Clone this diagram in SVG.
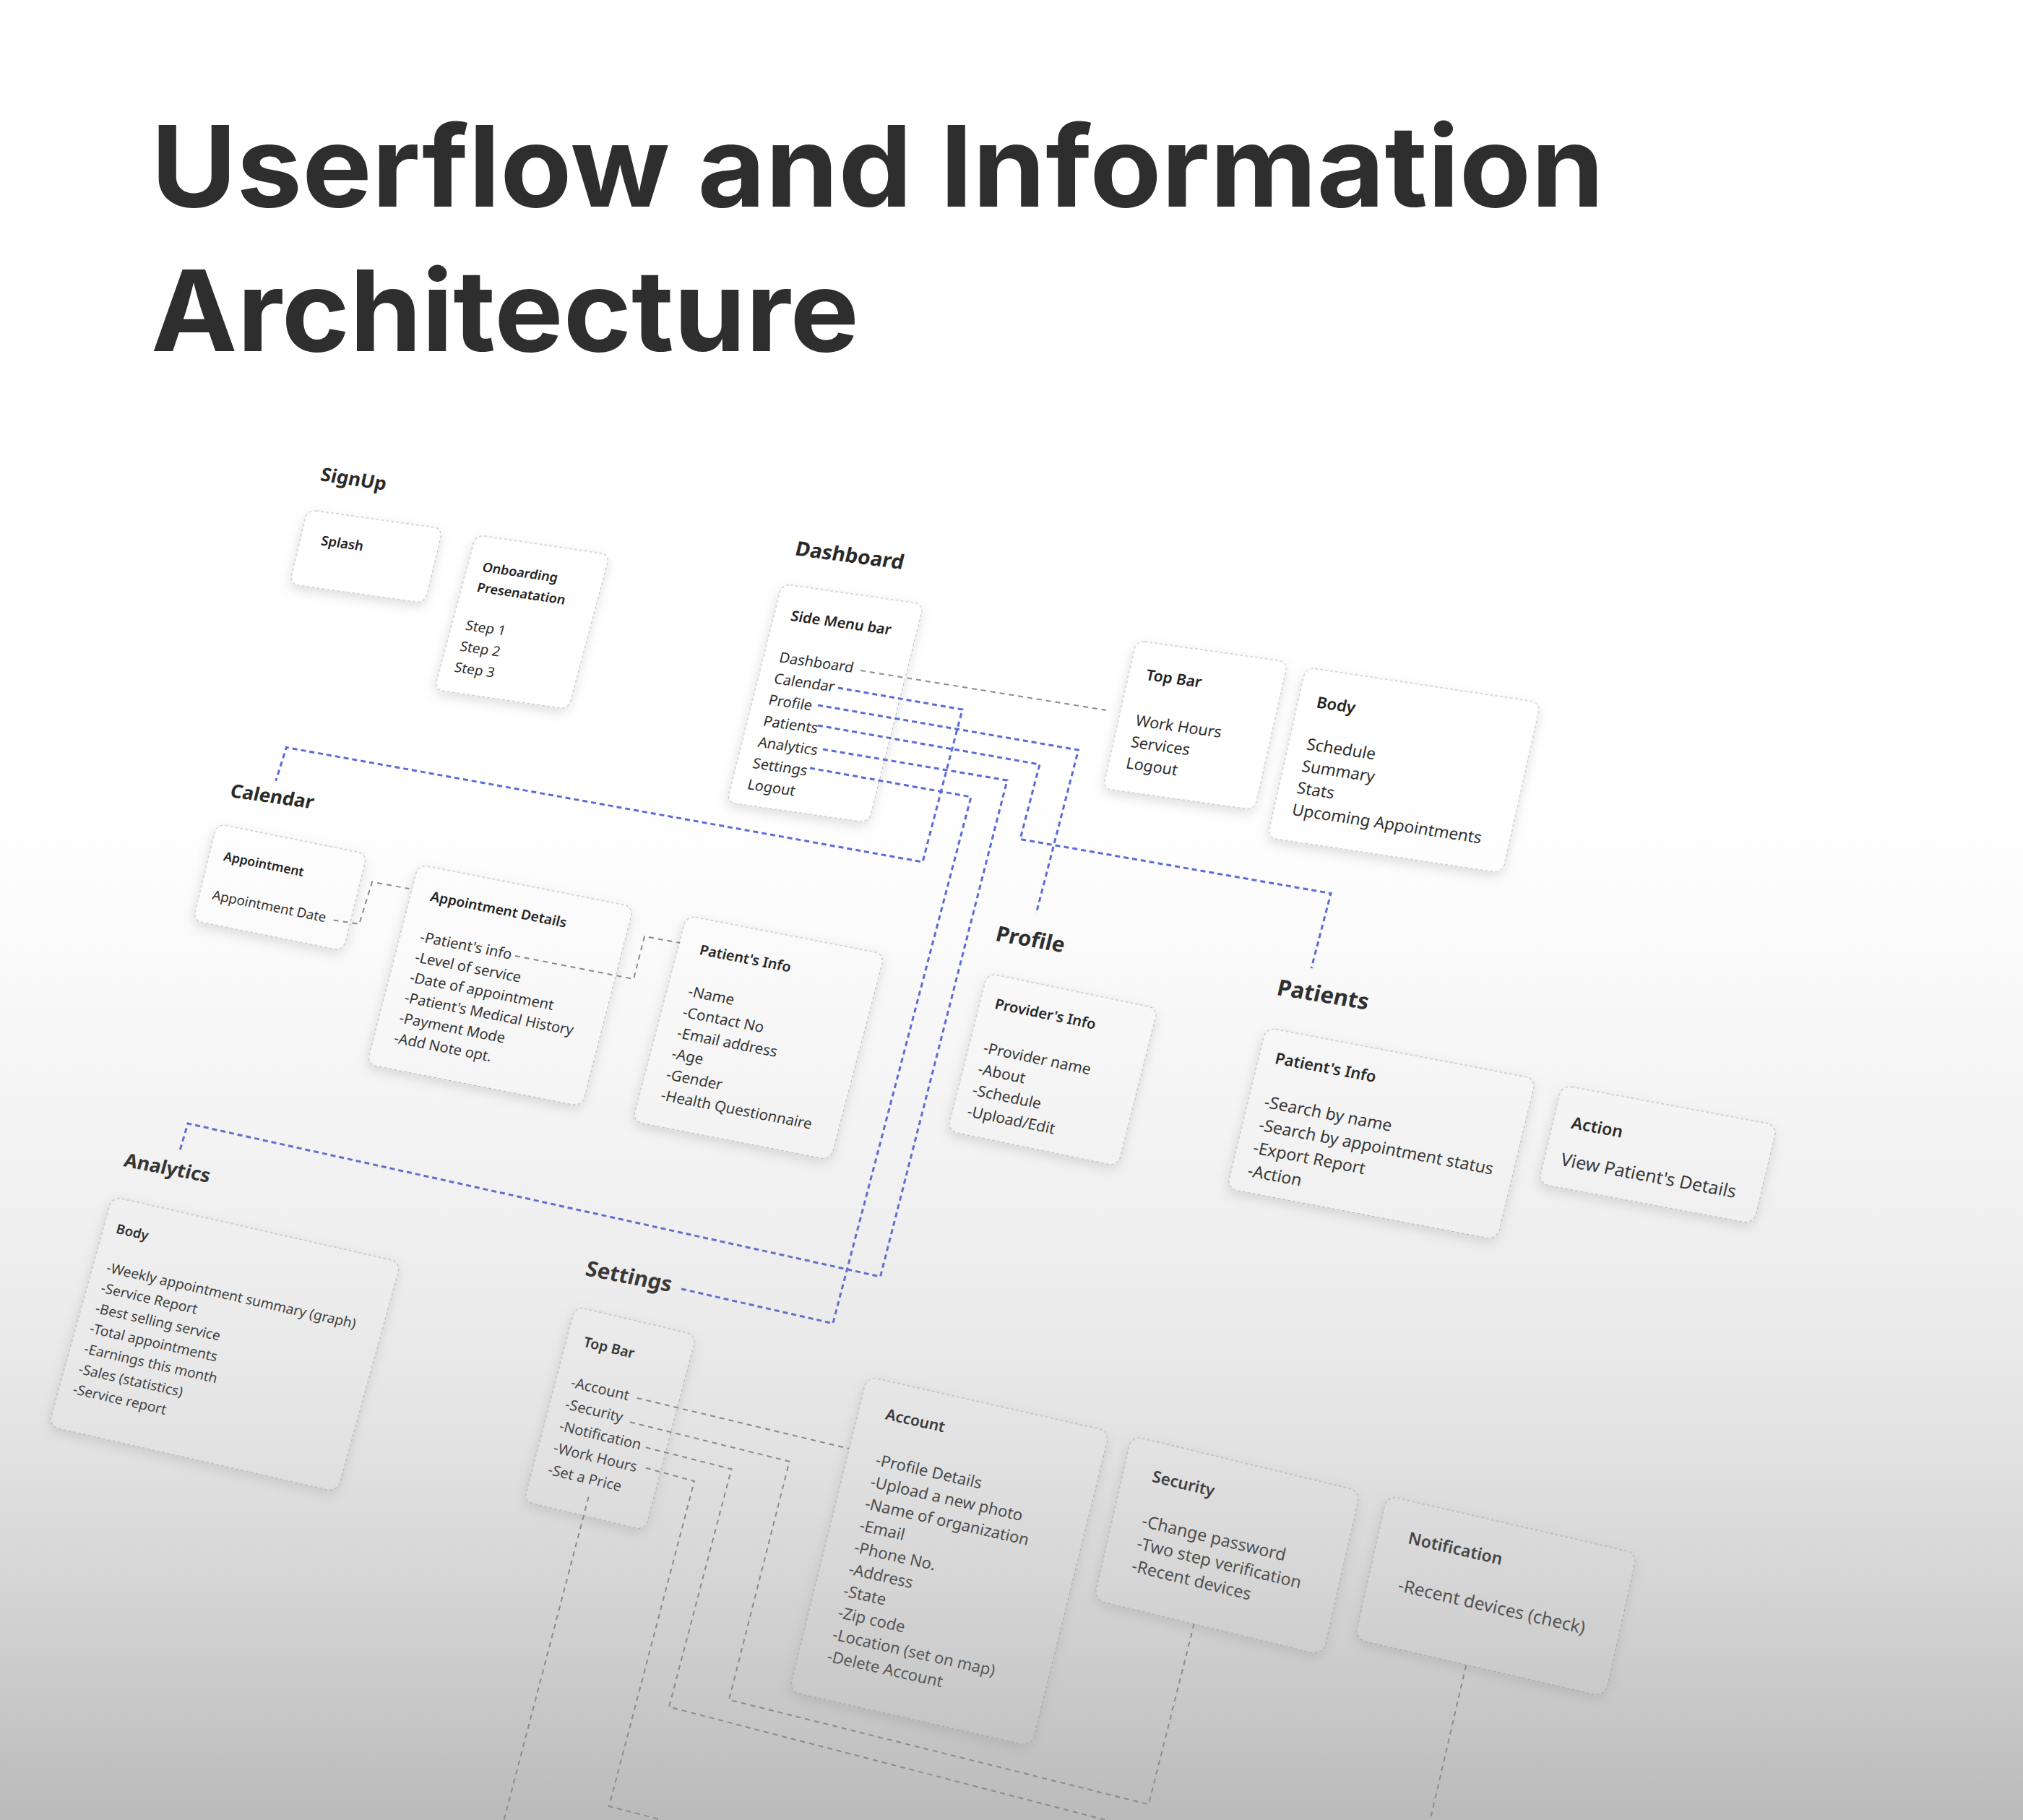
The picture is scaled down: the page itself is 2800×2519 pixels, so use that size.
<svg xmlns="http://www.w3.org/2000/svg" width="2800" height="2519" viewBox="0 0 2800 2519">
<defs>
<style>
.card{fill:#fff;stroke:#b5b5b5;stroke-width:1;stroke-dasharray:4 3;filter:url(#sh)}
.ct{font-family:'Noto Sans',sans-serif;font-weight:600;fill:#222}
.it{font-family:'Noto Sans',sans-serif;font-weight:400;fill:#2e2e2e}
.lb{font-family:'Noto Sans',sans-serif;font-weight:700;fill:#2a2a2a}
.ttl{font-family:Inter,'Noto Sans',sans-serif;font-weight:700;fill:#2e2e2e;font-size:156px}
.blue{fill:none;stroke:#5a6bd8;stroke-width:3;stroke-dasharray:7 5}
.gray{fill:none;stroke:#8a8a8a;stroke-width:2;stroke-dasharray:7 6}
</style>
<filter id="sh" x="-20%" y="-20%" width="140%" height="150%">
<feDropShadow dx="0" dy="6" stdDeviation="8" flood-color="#000" flood-opacity="0.13"/>
</filter>
<linearGradient id="ov" gradientUnits="userSpaceOnUse" x1="0" y1="0" x2="0" y2="2519">
<stop offset="0" stop-color="#8c8c8c" stop-opacity="0"/>
<stop offset="0.437" stop-color="#8c8c8c" stop-opacity="0"/>
<stop offset="0.516" stop-color="#8c8c8c" stop-opacity="0.04"/>
<stop offset="0.635" stop-color="#8c8c8c" stop-opacity="0.11"/>
<stop offset="0.715" stop-color="#8c8c8c" stop-opacity="0.165"/>
<stop offset="0.794" stop-color="#8c8c8c" stop-opacity="0.25"/>
<stop offset="0.873" stop-color="#8c8c8c" stop-opacity="0.37"/>
<stop offset="0.953" stop-color="#8c8c8c" stop-opacity="0.51"/>
<stop offset="1" stop-color="#8c8c8c" stop-opacity="0.6"/>
</linearGradient>
</defs>
<rect width="2800" height="2519" fill="#fff"/>

<g id="title">
<text class="ttl" x="209" y="286" textLength="2011" lengthAdjust="spacingAndGlyphs">Userflow and Information</text>
<text class="ttl" x="209" y="486" textLength="980" lengthAdjust="spacingAndGlyphs">Architecture</text>
</g>

<g id="labels">
<text class="lb" font-size="26" transform="matrix(0.989 0.15 -0.232 0.973 442.3 665)">SignUp</text>
<text class="lb" font-size="28" transform="matrix(0.9915 0.13 -0.244 0.97 1098.9 768.3)">Dashboard</text>
<text class="lb" font-size="26" transform="matrix(0.99 0.142 -0.239 0.971 317.3 1102.9)">Calendar</text>
<text class="lb" font-size="29.5" transform="matrix(0.985 0.174 -0.246 0.969 1376.5 1301.7)">Profile</text>
<text class="lb" font-size="31" transform="matrix(0.987 0.163 -0.235 0.972 1765.7 1376.7)">Patients</text>
<text class="lb" font-size="26.5" transform="matrix(0.982 0.19 -0.267 0.964 170 1613.9)">Analytics</text>
<text class="lb" font-size="29.5" transform="matrix(0.981 0.191 -0.254 0.967 808.7 1765)">Settings</text>
</g>

<g id="splash" transform="matrix(0.9905 0.1383 -0.2319 0.9727 425.2 705.4)">
<rect class="card" width="189.4" height="106.1" rx="12"/>
<text class="ct" x="29" y="46" font-size="18.5">Splash</text>
</g>

<g id="onboarding" transform="matrix(0.9894 0.1449 -0.2583 0.9662 658.3 740.3)">
<rect class="card" width="187.7" height="221.8" rx="12"/>
<text class="ct" x="21" y="49" font-size="18">Onboarding</text>
<text class="ct" x="21" y="78" font-size="18">Presenatation</text>
<g class="it" font-size="19">
<text x="19.5" y="133">Step 1</text>
<text x="19.5" y="163">Step 2</text>
<text x="19.5" y="193">Step 3</text>
</g>
</g>

<g id="side-menu" transform="matrix(0.9899 0.1411 -0.2437 0.9699 1082 808)">
<rect class="card" width="198.5" height="311.9" rx="12"/>
<text class="ct" x="23.5" y="49" font-size="20">Side Menu bar</text>
<g class="it" font-size="20">
<text x="22" y="108.5">Dashboard</text>
<text x="22" y="138.7">Calendar</text>
<text x="22" y="168.9">Profile</text>
<text x="22" y="199.1">Patients</text>
<text x="22" y="229.3">Analytics</text>
<text x="22" y="259.5">Settings</text>
<text x="22" y="289.7">Logout</text>
</g>
</g>

<g id="dash-topbar" transform="matrix(0.9901 0.1391 -0.2189 0.9757 1572.5 886.5)">
<rect class="card" width="212.1" height="210.1" rx="12"/>
<text class="ct" x="24.3" y="52.3" font-size="21">Top Bar</text>
<g class="it" font-size="21.5">
<text x="24" y="117.4">Work Hours</text>
<text x="24" y="147.6">Services</text>
<text x="24" y="177.8">Logout</text>
</g>
</g>

<g id="dash-body" transform="matrix(0.9888 0.1488 -0.2191 0.9756 1807 923.5)">
<rect class="card" width="329.2" height="241.9" rx="13"/>
<text class="ct" x="25.9" y="53.1" font-size="22">Body</text>
<g class="it" font-size="22.5">
<text x="25.3" y="112.7">Schedule</text>
<text x="25.3" y="143.7">Summary</text>
<text x="25.3" y="174.6">Stats</text>
<text x="25.3" y="205.6">Upcoming Appointments</text>
</g>
</g>

<g id="appointment" transform="matrix(0.9802 0.1979 -0.2391 0.971 300 1140)">
<rect class="card" width="212.2" height="138" rx="12"/>
<text class="ct" x="20.3" y="48.1" font-size="17.5">Appointment</text>
<text class="it" x="17.9" y="104.1" font-size="18.5">Appointment Date</text>
</g>

<g id="appointment-details" transform="matrix(0.9812 0.193 -0.2498 0.9685 579 1196.4)">
<rect class="card" width="303.7" height="285.4" rx="13"/>
<text class="ct" x="27.6" y="46.5" font-size="19">Appointment Details</text>
<g class="it" font-size="20">
<text x="28" y="104.5">-Patient's info</text>
<text x="28" y="133.4">-Level of service</text>
<text x="28" y="162.3">-Date of appointment</text>
<text x="28" y="191.2">-Patient's Medical History</text>
<text x="28" y="220.1">-Payment Mode</text>
<text x="28" y="249">-Add Note opt.</text>
</g>
</g>

<g id="cal-patient-info" transform="matrix(0.9814 0.1913 -0.2536 0.9674 950 1267)">
<rect class="card" width="279.7" height="294.6" rx="13"/>
<text class="ct" x="30.3" y="49.8" font-size="19.7">Patient's Info</text>
<g class="it" font-size="20.5">
<text x="29.5" y="109.5">-Name</text>
<text x="29.5" y="139.2">-Contact No</text>
<text x="29.5" y="168.9">-Email address</text>
<text x="29.5" y="198.6">-Age</text>
<text x="29.5" y="228.3">-Gender</text>
<text x="29.5" y="258">-Health Questionnaire</text>
</g>
</g>

<g id="providers-info" transform="matrix(0.9793 0.2031 -0.246 0.9694 1366.5 1346.8)">
<rect class="card" width="241.2" height="225.2" rx="13"/>
<text class="ct" x="21" y="46.2" font-size="20">Provider's Info</text>
<g class="it" font-size="21">
<text x="20.5" y="109.2">-Provider name</text>
<text x="20.5" y="139.4">-About</text>
<text x="20.5" y="169.6">-Schedule</text>
<text x="20.5" y="199.8">-Upload/Edit</text>
</g>
</g>

<g id="patients-info" transform="matrix(0.9824 0.1865 -0.2354 0.9721 1752 1422)">
<rect class="card" width="380.7" height="229.4" rx="14"/>
<text class="ct" x="22.8" y="46.7" font-size="21.8">Patient's Info</text>
<g class="it" font-size="23">
<text x="22.7" y="109.3">-Search by name</text>
<text x="22.7" y="141.9">-Search by appointment status</text>
<text x="22.7" y="174.5">-Export Report</text>
<text x="22.7" y="207.1">-Action</text>
</g>
</g>

<g id="action" transform="matrix(0.9829 0.1837 -0.232 0.9729 2161.5 1501.7)">
<rect class="card" width="303.7" height="140.1" rx="14"/>
<text class="ct" x="25.7" y="56.6" font-size="23">Action</text>
<text class="it" x="23.1" y="109.8" font-size="24.8">View Patient's Details</text>
</g>

<g id="analytics-body" transform="matrix(0.9751 0.2218 -0.2667 0.9636 155 1656)">
<rect class="card" width="410.2" height="330" rx="14"/>
<text class="ct" x="17.9" y="48.4" font-size="18.5">Body</text>
<g class="it" font-size="19.2">
<text x="19.5" y="103.9">-Weekly appointment summary (graph)</text>
<text x="19.5" y="133">-Service Report</text>
<text x="19.5" y="162.1">-Best selling service</text>
<text x="19.5" y="191.2">-Total appointments</text>
<text x="19.5" y="220.3">-Earnings this month</text>
<text x="19.5" y="249.4">-Sales (statistics)</text>
<text x="19.5" y="278.5">-Service report</text>
</g>
</g>

<g id="settings-topbar" transform="matrix(0.9728 0.2316 -0.2543 0.9671 796 1808)">
<rect class="card" width="172.7" height="279.2" rx="13"/>
<text class="ct" x="24.3" y="51.5" font-size="19.5">Top Bar</text>
<g class="it" font-size="20">
<text x="21.5" y="110.1">-Account</text>
<text x="21.5" y="141.3">-Security</text>
<text x="21.5" y="172.5">-Notification</text>
<text x="21.5" y="203.7">-Work Hours</text>
<text x="21.5" y="234.9">-Set a Price</text>
</g>
</g>

<g id="account" transform="matrix(0.9753 0.2206 -0.2404 0.9706 1200 1905)">
<rect class="card" width="344.5" height="449.2" rx="15"/>
<text class="ct" x="37.9" y="52.2" font-size="21">Account</text>
<g class="it" font-size="22">
<text x="40" y="117.1">-Profile Details</text>
<text x="40" y="148.2">-Upload a new photo</text>
<text x="40" y="179.3">-Name of organization</text>
<text x="40" y="210.4">-Email</text>
<text x="40" y="241.5">-Phone No.</text>
<text x="40" y="272.6">-Address</text>
<text x="40" y="303.7">-State</text>
<text x="40" y="334.8">-Zip code</text>
<text x="40" y="365.9">-Location (set on map)</text>
<text x="40" y="397">-Delete Account</text>
</g>
</g>

<g id="security" transform="matrix(0.9718 0.2361 -0.2233 0.9747 1566 1987)">
<rect class="card" width="326.2" height="232.9" rx="15"/>
<text class="ct" x="41.1" y="55.3" font-size="22.3">Security</text>
<g class="it" font-size="23.4">
<text x="41" y="118.7">-Change password</text>
<text x="41" y="150.6">-Two step verification</text>
<text x="41" y="182.5">-Recent devices</text>
</g>
</g>

<g id="notification" transform="matrix(0.9744 0.225 -0.2188 0.9759 1919.5 2070)">
<rect class="card" width="355.6" height="203.4" rx="15"/>
<text class="ct" x="42.1" y="58" font-size="23">Notification</text>
<text class="it" x="42.7" y="125.3" font-size="24.6">-Recent devices (check)</text>
</g>

<g id="connectors">
<polyline class="gray" points="1191,928 1531,983"/>
<polyline class="gray" points="461.7,1273.6 497.2,1278.9 515,1220.7 566.4,1230"/>
<polyline class="gray" points="713,1323 877,1355 892,1296 941,1305"/>
<polyline class="blue" points="1160,952 1332,982 1277,1193 396.4,1034.5 381.8,1080.7"/>
<polyline class="blue" points="1132,976 1492.5,1038 1434,1265"/>
<polyline class="blue" points="1132,1004 1439,1058 1412,1161.5 1842,1236.5 1815,1340"/>
<polyline class="blue" points="1139,1037 1394,1080 1218.5,1767 260,1555 248.5,1594"/>
<polyline class="blue" points="1121,1063 1344,1103 1152.8,1831.7 939,1783"/>
<polyline class="gray" points="881.9,1935 1175,2005"/>
<polyline class="gray" points="872,1968.3 1092.6,2022.7 1009,2352.6 1589.8,2497.4 1652.6,2248.1"/>
<polyline class="gray" points="893.8,2003.3 1012.4,2033.3 926,2362.5 1530,2519"/>
<polyline class="gray" points="2029.2,2304.9 1979.5,2519"/>
<polyline class="gray" points="893.8,2031.7 961,2050 843,2500 916,2519"/>
<polyline class="gray" points="814.7,2071.7 697.5,2519"/>
</g>

<rect width="2800" height="2519" fill="url(#ov)" pointer-events="none"/>
</svg>
